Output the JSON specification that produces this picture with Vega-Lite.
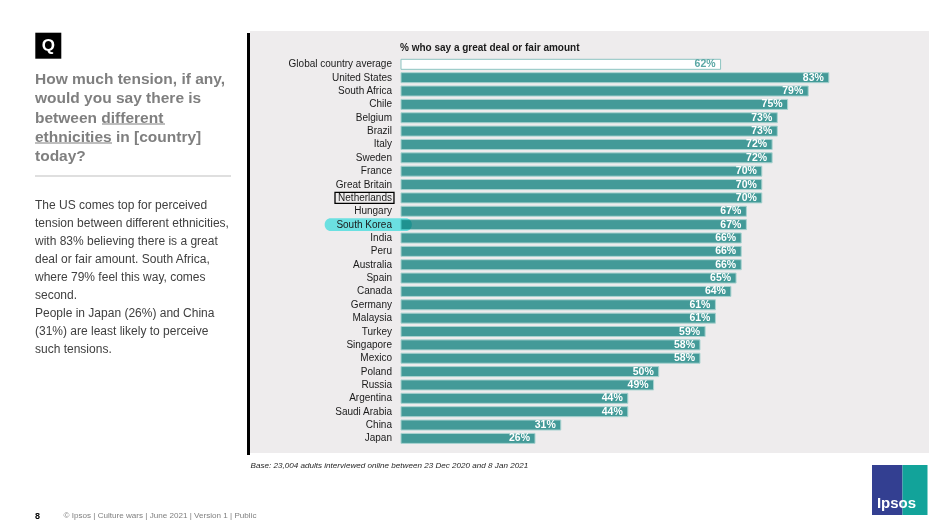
{
  "$schema": "https://vega.github.io/schema/vega-lite/v6.json",
  "background": "white",
  "padding": {"left": 0, "top": 31, "right": 0, "bottom": 0},
  "bounds": "flush",
  "spacing": 0,
  "config": {"view": {"stroke": null}, "font": "Liberation Sans"},
  "datasets": {
    "countries": [
      {"country": "Global country average", "value": 0.62},
      {"country": "United States", "value": 0.83},
      {"country": "South Africa", "value": 0.79},
      {"country": "Chile", "value": 0.75},
      {"country": "Belgium", "value": 0.73},
      {"country": "Brazil", "value": 0.73},
      {"country": "Italy", "value": 0.72},
      {"country": "Sweden", "value": 0.72},
      {"country": "France", "value": 0.70},
      {"country": "Great Britain", "value": 0.70},
      {"country": "Netherlands", "value": 0.70},
      {"country": "Hungary", "value": 0.67},
      {"country": "South Korea", "value": 0.67},
      {"country": "India", "value": 0.66},
      {"country": "Peru", "value": 0.66},
      {"country": "Australia", "value": 0.66},
      {"country": "Spain", "value": 0.65},
      {"country": "Canada", "value": 0.64},
      {"country": "Germany", "value": 0.61},
      {"country": "Malaysia", "value": 0.61},
      {"country": "Turkey", "value": 0.59},
      {"country": "Singapore", "value": 0.58},
      {"country": "Mexico", "value": 0.58},
      {"country": "Poland", "value": 0.50},
      {"country": "Russia", "value": 0.49},
      {"country": "Argentina", "value": 0.44},
      {"country": "Saudi Arabia", "value": 0.44},
      {"country": "China", "value": 0.31},
      {"country": "Japan", "value": 0.26}
    ],
    "slide": [
      {"part": "badge", "text": "Q"},
      {"part": "question", "text": ["How much tension, if any,", "would you say there is", "between different", "ethnicities in [country]", "today?"]},
      {"part": "body", "text": ["The US comes top for perceived", "tension between different ethnicities,", "with 83% believing there is a great", "deal or fair amount. South Africa,", "where 79% feel this way, comes", "second.", "People in Japan (26%) and China", "(31%) are least likely to perceive", "such tensions."]},
      {"part": "page", "text": "8"},
      {"part": "footer", "text": "© Ipsos | Culture wars | June 2021 | Version 1 | Public"},
      {"part": "logo", "text": "Ipsos"}
    ]
  },
  "hconcat": [
    {
      "width": 250,
      "height": 494,
      "data": {"name": "slide"},
      "layer": [
        {
          "transform": [{"filter": "datum.part === 'badge'"}],
          "mark": {"type": "square", "size": 676, "color": "#000000", "filled": true, "opacity": 1},
          "encoding": {
            "x": {"datum": 48.3, "type": "quantitative", "scale": {"domain": [0, 250], "nice": false, "zero": false}, "axis": null},
            "y": {"datum": 14.7, "type": "quantitative", "scale": {"domain": [0, 494], "nice": false, "zero": false, "reverse": true}, "axis": null}
          }
        },
        {
          "transform": [{"filter": "datum.part === 'badge'"}],
          "mark": {"type": "text", "align": "center", "baseline": "middle", "fontSize": 17, "fontWeight": "bold", "color": "#ffffff"},
          "encoding": {
            "x": {"datum": 48.3, "type": "quantitative"},
            "y": {"datum": 14.7, "type": "quantitative"},
            "text": {"field": "text"}
          }
        },
        {
          "transform": [{"filter": "datum.part === 'question'"}],
          "mark": {"type": "text", "align": "left", "baseline": "alphabetic", "fontSize": 15.5, "fontWeight": "bold", "lineHeight": 19.2, "color": "#7F7F7F"},
          "encoding": {
            "x": {"datum": 35, "type": "quantitative"},
            "y": {"datum": 53.3, "type": "quantitative"},
            "text": {"field": "text"}
          }
        },
        {
          "transform": [{"filter": "datum.part === 'question'"}],
          "mark": {"type": "rule", "color": "#7F7F7F", "strokeWidth": 1.2},
          "encoding": {
            "x": {"datum": 102, "type": "quantitative"},
            "x2": {"datum": 165},
            "y": {"datum": 93, "type": "quantitative"}
          }
        },
        {
          "transform": [{"filter": "datum.part === 'question'"}],
          "mark": {"type": "rule", "color": "#7F7F7F", "strokeWidth": 1.2},
          "encoding": {
            "x": {"datum": 35, "type": "quantitative"},
            "x2": {"datum": 112},
            "y": {"datum": 112, "type": "quantitative"}
          }
        },
        {
          "transform": [{"filter": "datum.part === 'question'"}],
          "mark": {"type": "rule", "color": "#BFBFBF", "strokeWidth": 1},
          "encoding": {
            "x": {"datum": 35, "type": "quantitative"},
            "x2": {"datum": 231},
            "y": {"datum": 145, "type": "quantitative"}
          }
        },
        {
          "transform": [{"filter": "datum.part === 'question'"}],
          "mark": {"type": "rule", "color": "#000000", "strokeWidth": 3},
          "encoding": {
            "x": {"datum": 248.5, "type": "quantitative"},
            "y": {"datum": 2, "type": "quantitative"},
            "y2": {"datum": 424}
          }
        },
        {
          "transform": [{"filter": "datum.part === 'body'"}],
          "mark": {"type": "text", "align": "left", "baseline": "alphabetic", "fontSize": 12, "lineHeight": 17.95, "color": "#404040"},
          "encoding": {
            "x": {"datum": 35, "type": "quantitative"},
            "y": {"datum": 178.3, "type": "quantitative"},
            "text": {"field": "text"}
          }
        },
        {
          "transform": [{"filter": "datum.part === 'page'"}],
          "mark": {"type": "text", "align": "left", "baseline": "middle", "fontSize": 9, "fontWeight": "bold", "color": "#000000"},
          "encoding": {
            "x": {"datum": 35, "type": "quantitative"},
            "y": {"datum": 485, "type": "quantitative"},
            "text": {"field": "text"}
          }
        },
        {
          "transform": [{"filter": "datum.part === 'footer'"}],
          "mark": {"type": "text", "align": "left", "baseline": "middle", "fontSize": 8.1, "color": "#7F7F7F"},
          "encoding": {
            "x": {"datum": 63.5, "type": "quantitative"},
            "y": {"datum": 485, "type": "quantitative"},
            "text": {"field": "text"}
          }
        },
        {
          "transform": [{"filter": "datum.part === 'logo'"}],
          "mark": {"type": "rect", "color": "#333F91"},
          "encoding": {
            "x": {"datum": 872, "type": "quantitative"},
            "x2": {"datum": 902.5},
            "y": {"datum": 434, "type": "quantitative"},
            "y2": {"datum": 484}
          }
        },
        {
          "transform": [{"filter": "datum.part === 'logo'"}],
          "mark": {"type": "rect", "color": "#12A39A"},
          "encoding": {
            "x": {"datum": 902.5, "type": "quantitative"},
            "x2": {"datum": 927.5},
            "y": {"datum": 434, "type": "quantitative"},
            "y2": {"datum": 484}
          }
        },
        {
          "transform": [{"filter": "datum.part === 'logo'"}],
          "mark": {"type": "text", "align": "center", "baseline": "middle", "fontSize": 15, "fontWeight": "bold", "color": "#ffffff"},
          "encoding": {
            "x": {"datum": 896.5, "type": "quantitative"},
            "y": {"datum": 472, "type": "quantitative"},
            "text": {"field": "text"}
          }
        }
      ]
    },
    {
      "width": 679,
      "height": 422,
      "view": {"fill": "#EEECED"},
      "title": {
        "text": "% who say a great deal or fair amount",
        "anchor": "start",
        "frame": "group",
        "dx": 150,
        "offset": -30,
        "baseline": "alphabetic",
        "fontSize": 10,
        "fontWeight": "bold",
        "color": "#1a1a1a"
      },
      "data": {"name": "countries"},
      "encoding": {
        "y": {
          "field": "country",
          "type": "nominal",
          "sort": null,
          "scale": {
            "domain": ["Global country average", "United States", "South Africa", "Chile", "Belgium", "Brazil", "Italy", "Sweden", "France", "Great Britain", "Netherlands", "Hungary", "South Korea", "India", "Peru", "Australia", "Spain", "Canada", "Germany", "Malaysia", "Turkey", "Singapore", "Mexico", "Poland", "Russia", "Argentina", "Saudi Arabia", "China", "Japan"],
            "range": [28.3, 412.4],
            "paddingInner": 0.25,
            "paddingOuter": 0
          },
          "axis": {"title": null, "labels": false, "ticks": false, "grid": false, "domain": false}
        }
      },
      "layer": [
        {
          "mark": {"type": "bar", "strokeWidth": 1},
          "encoding": {
            "x": {
              "field": "value",
              "type": "quantitative",
              "scale": {"domain": [-0.2929, 1.0243], "nice": false, "zero": false},
              "axis": {
                "orient": "bottom",
                "title": "Base: 23,004 adults interviewed online between 23 Dec 2020 and 8 Jan 2021",
                "titleAnchor": "start",
                "titleAlign": "left",
                "titleFontStyle": "italic",
                "titleFontWeight": "normal",
                "titleFontSize": 8.1,
                "titleColor": "#262626",
                "titlePadding": 8,
                "labels": false,
                "ticks": false,
                "domain": false,
                "grid": false
              }
            },
            "x2": {"datum": 0},
            "color": {"condition": {"test": "datum.country === 'Global country average'", "value": "#ffffff"}, "value": "#439A98"},
            "stroke": {"condition": {"test": "datum.country === 'Global country average'", "value": "#8CC4C1"}, "value": "#A9D3D0"}
          }
        },
        {
          "transform": [{"filter": "datum.country === 'South Korea'"}],
          "mark": {"type": "rect", "color": "#00E8E8", "opacity": 0.55, "blend": "multiply", "cornerRadius": 6, "height": {"band": 1.27}},
          "encoding": {
            "x": {"datum": -0.148, "type": "quantitative"},
            "x2": {"datum": 0.021}
          }
        },
        {
          "transform": [{"filter": "datum.country === 'Netherlands'"}],
          "mark": {"type": "rect", "filled": false, "stroke": "#000000", "strokeWidth": 1.3, "height": {"band": 1.1}},
          "encoding": {
            "x": {"datum": -0.128, "type": "quantitative"},
            "x2": {"datum": -0.0136}
          }
        },
        {
          "mark": {"type": "text", "align": "right", "baseline": "middle", "dx": -9, "fontSize": 10, "color": "#1a1a1a"},
          "encoding": {
            "x": {"datum": 0, "type": "quantitative"},
            "text": {"field": "country"}
          }
        },
        {
          "mark": {"type": "text", "align": "right", "baseline": "middle", "dx": -5, "fontSize": 10.5, "fontWeight": "bold"},
          "encoding": {
            "x": {"field": "value", "type": "quantitative"},
            "text": {"field": "value", "type": "quantitative", "format": ".0%"},
            "color": {"condition": {"test": "datum.country === 'Global country average'", "value": "#5BA8A5"}, "value": "#ffffff"}
          }
        }
      ]
    }
  ]
}
